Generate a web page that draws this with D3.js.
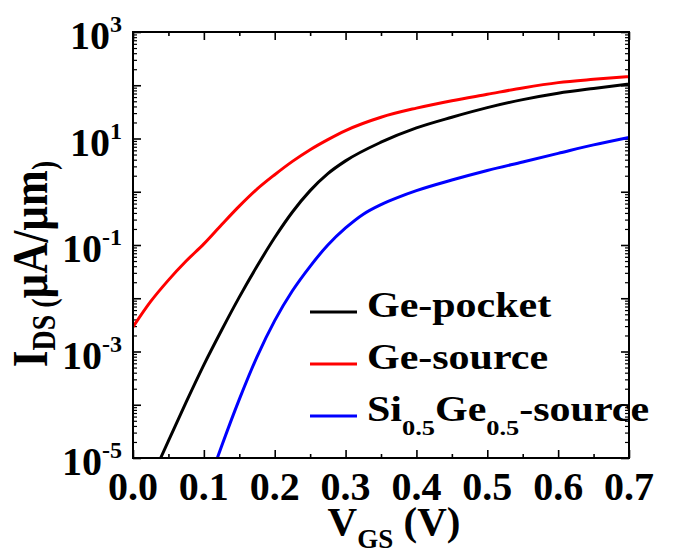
<!DOCTYPE html>
<html>
<head>
<meta charset="utf-8">
<script src="https://cdn.jsdelivr.net/npm/d3@7"></script>
<style>
  body { margin: 0; background: #fff; }
  svg { display: block; }
  text { font-family: "Liberation Serif", "Times New Roman", serif; font-weight: bold; fill: #000; }
</style>
</head>
<body>
<script>
const width = 686;
const height = 555;
const margin = {top: 32, left: 133, bottom: 97, right: 30};

// V_GS (V) and I_DS (uA/um)
const vPocket = [0.039, 0.05, 0.075, 0.1, 0.125, 0.15, 0.175, 0.2, 0.225, 0.25, 0.275, 0.3, 0.35, 0.4, 0.45, 0.5, 0.55, 0.6, 0.65, 0.7];
const iPocket = [1e-5, 2.09e-5, 1.12e-4, 5.62e-4, 2.51e-3, 1.05e-2, 3.98e-2, 0.138, 0.417, 1.05, 2.19, 3.80, 8.51, 15.8, 25.1, 38.0, 53.7, 70.8, 87.1, 105];

const vGeSrc = [0, 0.025, 0.05, 0.075, 0.1, 0.125, 0.15, 0.175, 0.2, 0.225, 0.25, 0.275, 0.3, 0.35, 0.4, 0.45, 0.5, 0.55, 0.6, 0.65, 0.7];
const iGeSrc = [2.88e-3, 8.7e-3, 2.19e-2, 5.0e-2, 0.105, 0.24, 0.537, 1.12, 2.09, 3.72, 6.17, 9.55, 14.1, 25.1, 37.2, 51.3, 67.6, 89.1, 112, 129, 145];

const vSiGe = [0.119, 0.125, 0.15, 0.175, 0.2, 0.225, 0.25, 0.275, 0.3, 0.325, 0.35, 0.375, 0.4, 0.45, 0.5, 0.55, 0.6, 0.65, 0.7];
const iSiGe = [1e-5, 1.66e-5, 1.26e-4, 7.94e-4, 3.80e-3, 1.38e-2, 3.98e-2, 0.1, 0.209, 0.380, 0.575, 0.794, 1.05, 1.66, 2.51, 3.63, 5.25, 7.59, 10.5];

const seriesNames = ['Ge-pocket', 'Ge-source', 'Si0.5Ge0.5-source'];
const seriesColors = ['#000000', '#ff0000', '#0000ff'];

const xTicks = [0, 0.1, 0.2, 0.3, 0.4, 0.5, 0.6, 0.7];
const xTickLabels = ['0.0', '0.1', '0.2', '0.3', '0.4', '0.5', '0.6', '0.7'];
const yLabelExps = [-5, -3, -1, 1, 3];

const series = [
  {name: seriesNames[0], color: seriesColors[0], pts: vPocket.map((v, i) => [v, iPocket[i]])},
  {name: seriesNames[1], color: seriesColors[1], pts: vGeSrc.map((v, i) => [v, iGeSrc[i]])},
  {name: seriesNames[2], color: seriesColors[2], pts: vSiGe.map((v, i) => [v, iSiGe[i]])}
];

const x = d3.scaleLinear()
  .domain([0, 0.7])
  .range([margin.left, width - margin.right - 27]);

const y = d3.scaleLog()
  .domain([1e-5, 1e3])
  .range([height - margin.bottom, margin.top]);

const x0 = x.range()[0], x1 = x.range()[1];
const y0 = y.range()[1], y1 = y.range()[0];

const svg = d3.select('body').append('svg')
  .attr('width', width).attr('height', height);

svg.append('defs').append('clipPath').attr('id', 'plot')
  .append('rect').attr('x', x0).attr('y', y0).attr('width', x1 - x0).attr('height', y1 - y0);

// ticks, all pointing inwards
const xMinor = d3.range(0.05, 0.7, 0.1);
const yMajor = d3.range(-5, 4).map(e => Math.pow(10, e));
const yMinor = [];
for (let e = -5; e < 3; e++) for (let k = 2; k <= 9; k++) yMinor.push(k * Math.pow(10, e));

const tickStyle = g => g
  .call(g => g.select('.domain').remove())
  .call(g => g.selectAll('line').attr('stroke', '#000').attr('stroke-width', 1.6));

svg.append('g').attr('transform', `translate(0,${y1})`)
  .call(d3.axisBottom(x).tickValues(xTicks).tickSize(-8).tickFormat('')).call(tickStyle);
svg.append('g').attr('transform', `translate(0,${y1})`)
  .call(d3.axisBottom(x).tickValues(xMinor).tickSize(-4).tickFormat('')).call(tickStyle);
svg.append('g').attr('transform', `translate(0,${y0})`)
  .call(d3.axisTop(x).tickValues(xTicks).tickSize(-8).tickFormat('')).call(tickStyle);
svg.append('g').attr('transform', `translate(0,${y0})`)
  .call(d3.axisTop(x).tickValues(xMinor).tickSize(-4).tickFormat('')).call(tickStyle);

[[d3.axisLeft, x0], [d3.axisRight, x1]].forEach(([ax, pos]) => {
  svg.append('g').attr('transform', `translate(${pos},0)`)
    .call(ax(y).tickValues(yMajor).tickSize(-8).tickFormat('')).call(tickStyle);
  svg.append('g').attr('transform', `translate(${pos},0)`)
    .call(ax(y).tickValues(yMinor).tickSize(-4).tickFormat('')).call(tickStyle)
    .call(g => g.selectAll('line').attr('stroke-width', 1.2));
});

// curves
const line = d3.line()
  .x(d => x(d[0]))
  .y(d => y(d[1]))
  .curve(d3.curveMonotoneX);

svg.append('g').attr('clip-path', 'url(#plot)')
  .selectAll('path').data(series).enter().append('path')
  .attr('d', d => line(d.pts))
  .attr('fill', 'none')
  .attr('stroke', d => d.color)
  .attr('stroke-width', 3);

// frame
svg.append('rect')
  .attr('x', x0).attr('y', y0).attr('width', x1 - x0).attr('height', y1 - y0)
  .attr('fill', 'none').attr('stroke', '#000').attr('stroke-width', 2);

// tick labels
svg.append('g').selectAll('text').data(xTicks).enter().append('text')
  .attr('x', d => x(d)).attr('y', 500)
  .attr('text-anchor', 'middle')
  .style('font-size', '40px')
  .text((d, i) => xTickLabels[i]);

const yl = svg.append('g').selectAll('text').data(yLabelExps).enter().append('text')
  .attr('x', 122).attr('y', d => y(Math.pow(10, d)) + 17)
  .attr('text-anchor', 'end');
yl.append('tspan').style('font-size', '40px').text('10');
yl.append('tspan').style('font-size', '24px').attr('dy', -17).text(d => String(d));

// axis titles
const xt = svg.append('text')
  .attr('x', 394).attr('y', 535)
  .attr('text-anchor', 'middle').style('font-size', '41px');
xt.append('tspan').text('V');
xt.append('tspan').style('font-size', '27px').attr('dy', 13).text('GS');
xt.append('tspan').attr('dy', -13).text(' (V)');

const yt = svg.append('g').attr('transform', 'translate(47,264) scale(1.18,1) rotate(-90)')
  .append('text').attr('text-anchor', 'middle').style('font-size', '43px');
yt.append('tspan').text('I');
yt.append('tspan').style('font-size', '28px').attr('dy', 7).text('DS (');
yt.append('tspan').attr('dy', -7).text('\u00b5A/\u00b5m');
yt.append('tspan').style('font-size', '28px').attr('dy', 7).text(')');

// legend
const legendY = [312, 364, 416];
const lg = svg.append('g').selectAll('g').data(series).enter().append('g');
lg.append('line')
  .attr('x1', 310).attr('x2', 357)
  .attr('y1', (d, i) => legendY[i]).attr('y2', (d, i) => legendY[i])
  .attr('stroke', d => d.color).attr('stroke-width', 3);
const lt = lg.append('text')
  .attr('transform', (d, i) => `translate(367,${legendY[i] + 5}) scale(1.2,1)`)
  .style('font-size', '35px');
lt.filter((d, i) => i < 2).text(d => d.name);
const si = lt.filter((d, i) => i === 2);
si.append('tspan').text('Si');
si.append('tspan').style('font-size', '22px').attr('dy', 14).text('0.5');
si.append('tspan').attr('dy', -14).text('Ge');
si.append('tspan').style('font-size', '22px').attr('dy', 14).text('0.5');
si.append('tspan').attr('dy', -14).text('-source');
</script>
</body>
</html>
